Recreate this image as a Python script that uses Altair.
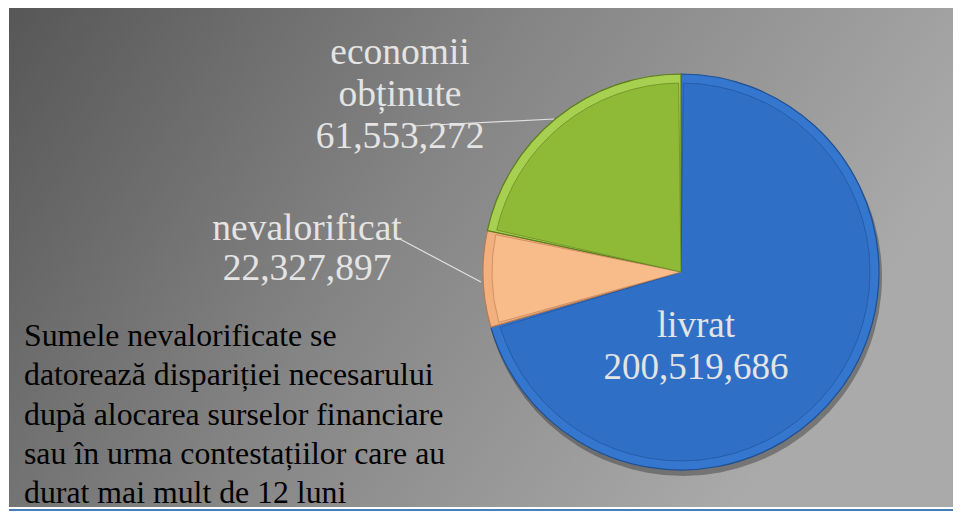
import altair as alt
import pandas as pd

# ---- data ----
categories = ["livrat", "nevalorificat", "economii obținute"]
values = [200519686, 22327897, 61553272]
slice_order = [1, 2, 3]
main_colors = ["#2f6fc6", "#f8bb8a", "#8fba38"]
rim_colors = ["#3577cf", "#f2b07e", "#a8d050"]
edge_colors = ["#1d4f93", "#b87a52", "#5b7d1c"]

label_lines = {
    "economii obținute": ["economii", "obținute", "61,553,272"],
    "nevalorificat": ["nevalorificat", "22,327,897"],
    "livrat": ["livrat", "200,519,686"],
}
note_lines = [
    "Sumele nevalorificate se",
    "datorează dispariției necesarului",
    "după alocarea surselor financiare",
    "sau în urma contestațiilor care au",
    "durat mai mult de 12 luni",
]

df = pd.DataFrame({
    "cat": categories,
    "val": values,
    "ord": slice_order,
    "main": main_colors,
    "rim": rim_colors,
    "edge": edge_colors,
})

W, H = 945, 503
CX, CY, R = 672, 264, 198
FONT = "'Liberation Serif', 'Times New Roman', serif"

base = alt.Chart(df)

bg = alt.Chart(pd.DataFrame({"a": [0]})).mark_rect(
    fill=alt.LinearGradient(
        gradient="linear",
        stops=[
            alt.GradientStop(color="#575757", offset=0),
            alt.GradientStop(color="#858585", offset=0.5),
            alt.GradientStop(color="#aaaaaa", offset=1),
        ],
        x1=0, y1=0, x2=1, y2=0.35,
    )
).encode(x=alt.value(0), x2=alt.value(W), y=alt.value(0), y2=alt.value(499))

bottom_line = alt.Chart(pd.DataFrame({"a": [0]})).mark_rule(
    color="#4a7ebb", strokeWidth=2
).encode(x=alt.value(0), x2=alt.value(W), y=alt.value(502))

theta = alt.Theta("val:Q", stack=True)
order = alt.Order("ord:O")

shadow = base.mark_arc(radius=R + 1, fill="#000000", opacity=0.3).encode(
    theta=theta, order=order, x=alt.value(CX + 2), y=alt.value(CY + 5)
)

outer = base.mark_arc(radius=R, strokeWidth=1.2).encode(
    theta=theta, order=order,
    fill=alt.Fill("rim:N", scale=None),
    stroke=alt.Stroke("edge:N", scale=None),
    x=alt.value(CX), y=alt.value(CY),
)

inner = base.mark_arc(radius=R - 9, padAngle=0.025, strokeWidth=1, strokeOpacity=0.6).encode(
    theta=theta, order=order,
    fill=alt.Fill("main:N", scale=None),
    stroke=alt.Stroke("edge:N", scale=None),
    x=alt.value(CX), y=alt.value(CY),
)

layers = [bg, bottom_line, shadow, outer, inner]


def text_line(s, x, y, size, color, align="center"):
    return alt.Chart(pd.DataFrame({"t": [s]})).mark_text(
        font=FONT, fontSize=size, color=color, align=align, baseline="middle"
    ).encode(text="t:N", x=alt.value(x), y=alt.value(y))


LBL = "#e4e4e4"
# leader lines
layers.append(alt.Chart(pd.DataFrame({"a": [0]})).mark_rule(color="#e0e0e0", strokeWidth=1.2).encode(
    x=alt.value(405), y=alt.value(118), x2=alt.value(545), y2=alt.value(111)))
layers.append(alt.Chart(pd.DataFrame({"a": [0]})).mark_rule(color="#e0e0e0", strokeWidth=1.2).encode(
    x=alt.value(389), y=alt.value(230), x2=alt.value(472), y2=alt.value(274)))

for i, s in enumerate(label_lines["economii obținute"]):
    layers.append(text_line(s, 391, 45 + 42 * i, 37.5, LBL))
for i, s in enumerate(label_lines["nevalorificat"]):
    layers.append(text_line(s, 298, 221 + 40 * i, 37.5, LBL))
for i, s in enumerate(label_lines["livrat"]):
    layers.append(text_line(s, 687, 318 + 42 * i, 37, LBL))

for i, s in enumerate(note_lines):
    layers.append(text_line(s, 15, 328 + 39.3 * i, 31.8, "#000000", align="left"))

chart = alt.layer(*layers).properties(
    width=W, height=H, padding=0,
    autosize=alt.AutoSizeParams(type="fit", contains="padding"),
).configure_view(stroke=None)

chart.save("out.html", embed_options={"renderer": "svg", "actions": False})
